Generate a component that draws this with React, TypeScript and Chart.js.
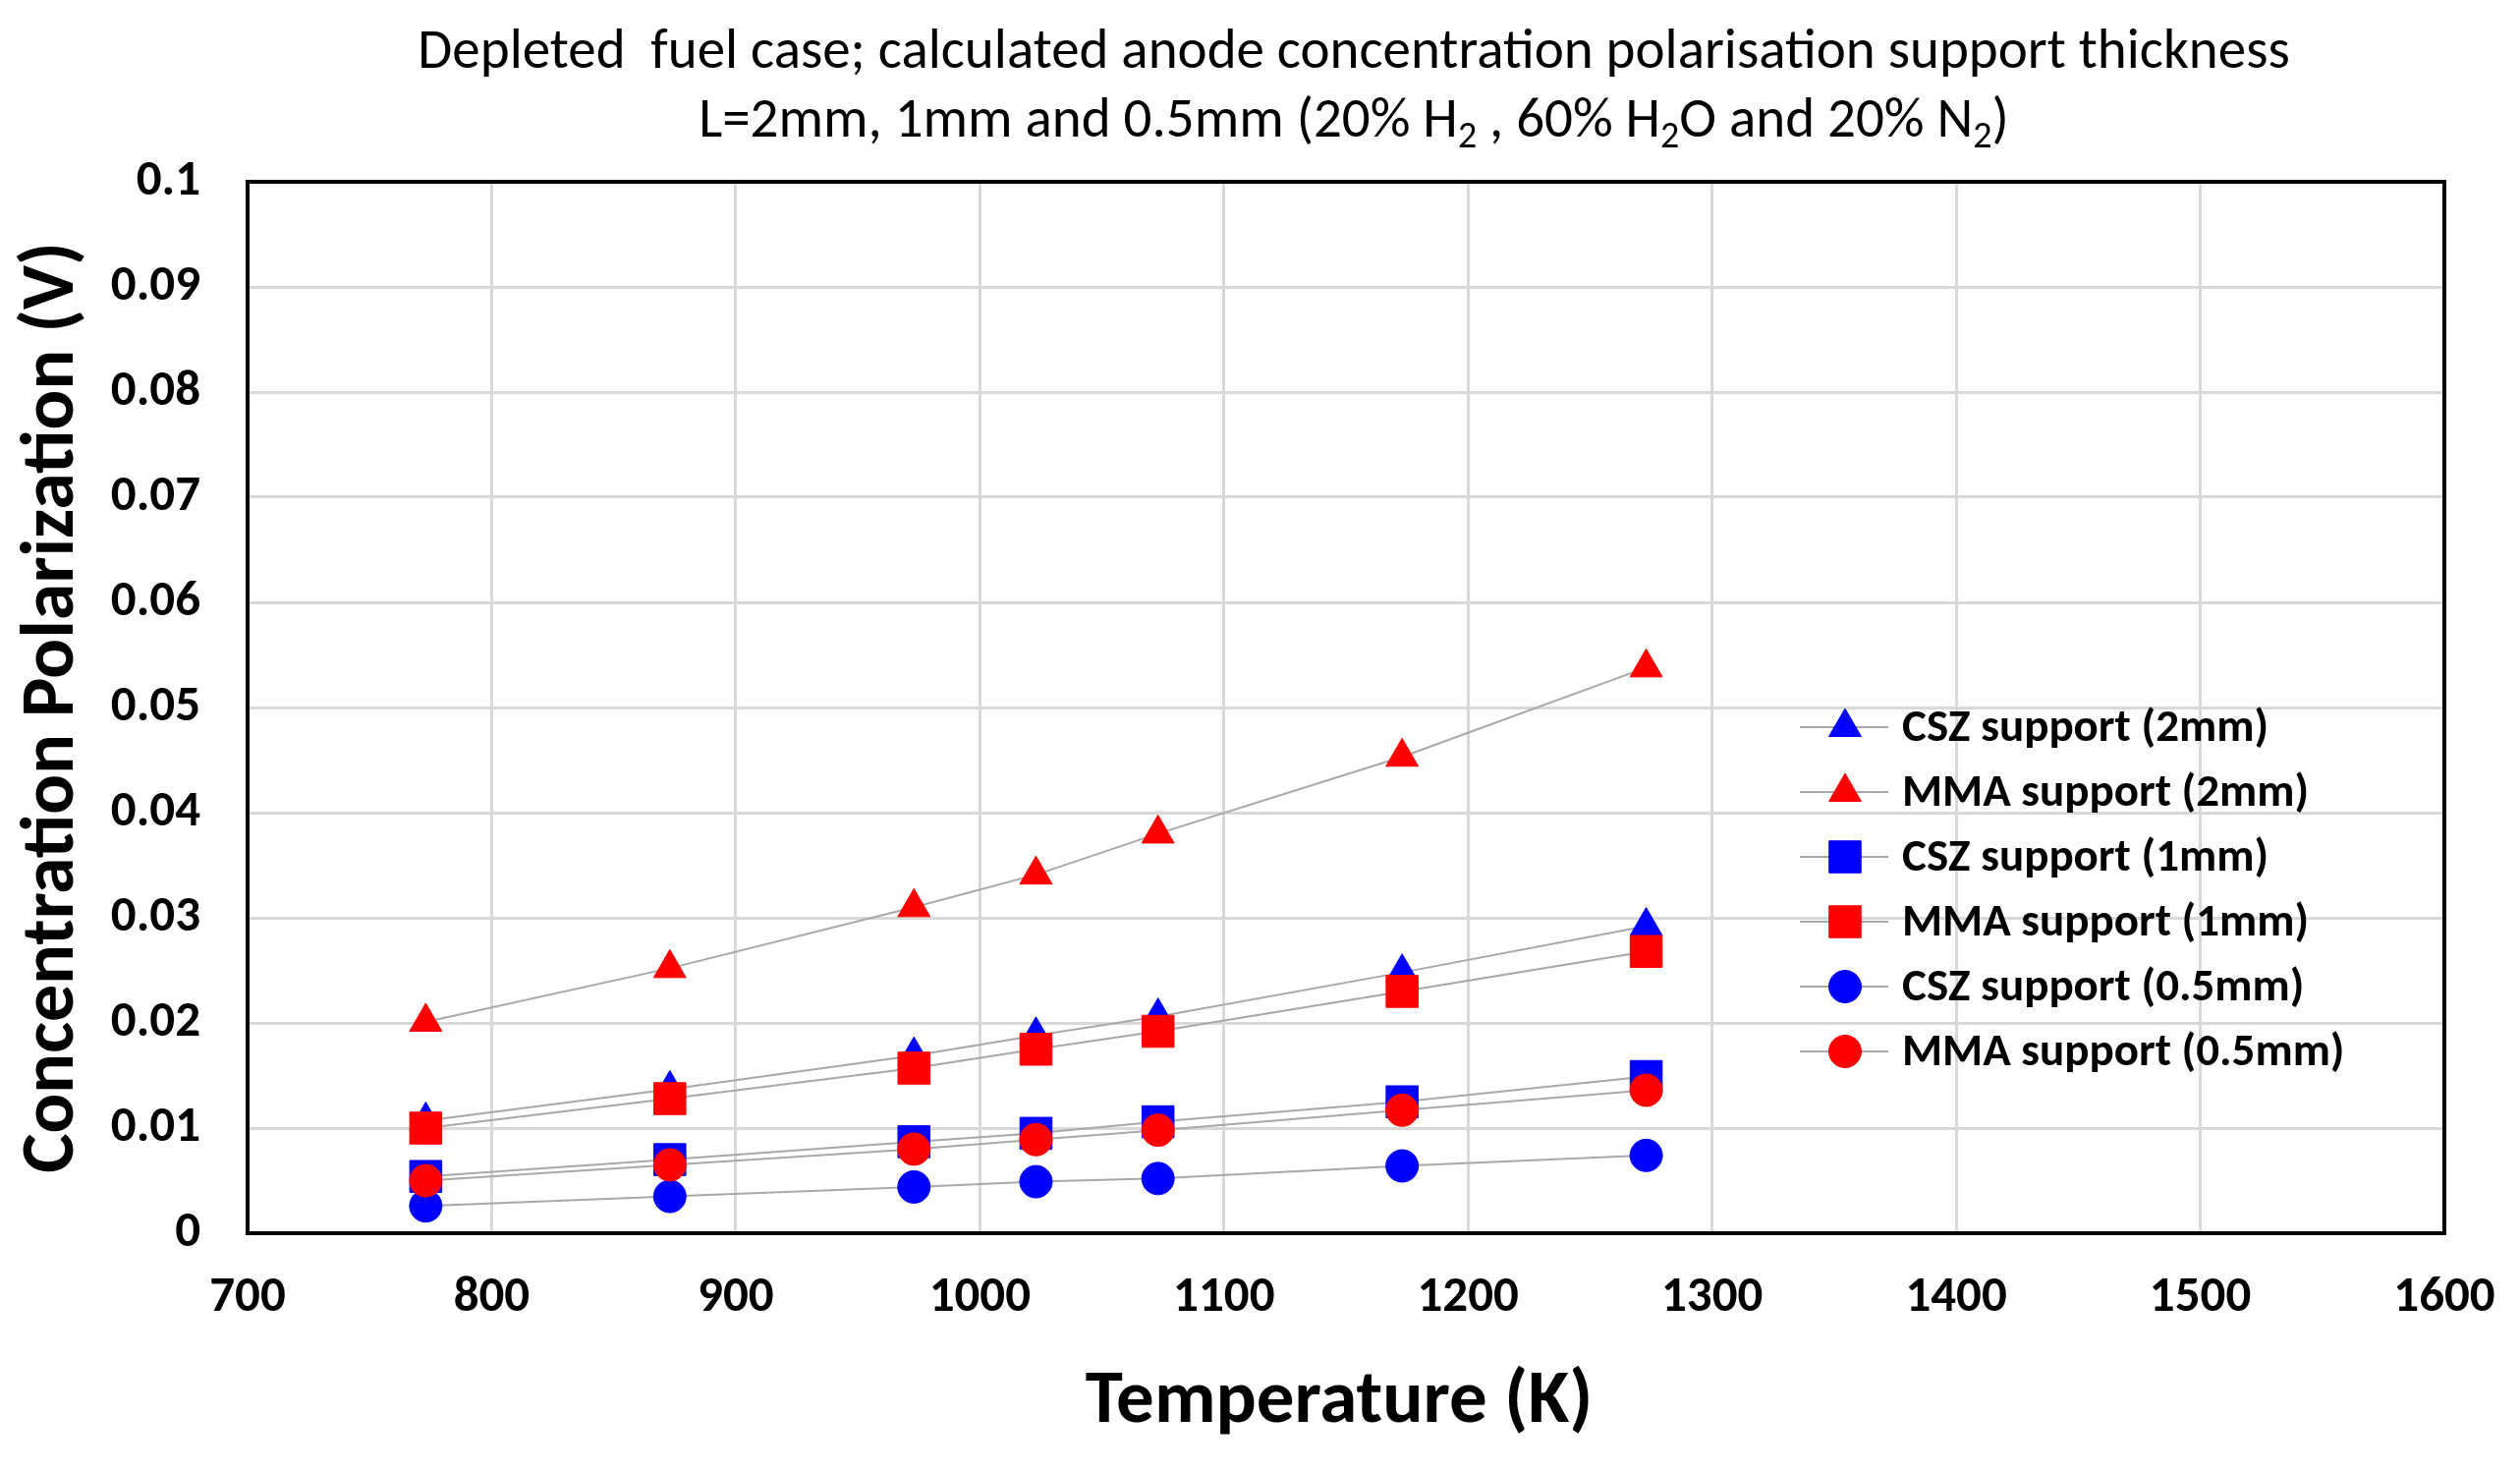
import { useEffect, useRef } from "react"
import { Chart, registerables } from "chart.js"
import { drawPoint } from "chart.js/helpers"

Chart.register(...registerables)

// Temperatura (K) e polarização de concentração (V)
const temperatures = [773, 873, 973, 1023, 1073, 1173, 1273]
const cszSupport2mm = [0.0107, 0.0137, 0.0169, 0.0188, 0.0206, 0.0248, 0.0292]
const mmaSupport2mm = [0.0201, 0.0252, 0.031, 0.0341, 0.038, 0.0453, 0.0538]
const cszSupport1mm = [0.0054, 0.007, 0.0087, 0.0095, 0.0106, 0.0125, 0.0149]
const mmaSupport1mm = [0.01, 0.0128, 0.0157, 0.0175, 0.0192, 0.023, 0.0268]
const cszSupport05mm = [0.0026, 0.0035, 0.0044, 0.0049, 0.0052, 0.0064, 0.0074]
const mmaSupport05mm = [0.005, 0.0065, 0.008, 0.0089, 0.0098, 0.0117, 0.0136]

const seriesLabels = [
  "CSZ support (2mm)",
  "MMA support (2mm)",
  "CSZ support (1mm)",
  "MMA support (1mm)",
  "CSZ support (0.5mm)",
  "MMA support (0.5mm)",
]
const seriesValues = [cszSupport2mm, mmaSupport2mm, cszSupport1mm, mmaSupport1mm, cszSupport05mm, mmaSupport05mm]

const xMin = 700
const xMax = 1600
const xStep = 100
const yMin = 0
const yMax = 0.1
const yStep = 0.01

const titleLine1 = "Depleted  fuel case; calculated anode concentration polarisation support thickness"
// [texto, subscrito?]
const titleLine2: [string, boolean][] = [
  ["L=2mm, 1mm and 0.5mm (20% H", false],
  ["2", true],
  [" , 60% H", false],
  ["2", true],
  ["O and 20% N", false],
  ["2", true],
  [")", false],
]
const xTitle = "Temperature (K)"
const yTitle = "Concentration Polarization (V)"

const FONT = "Carlito, Lato, sans-serif"
const BLUE = "#0000ff"
const RED = "#ff0000"
const LINE_GRAY = "#a8a8a8"

const styles = [
  { color: BLUE, pointStyle: "triangle", radius: 19 },
  { color: RED, pointStyle: "triangle", radius: 19 },
  { color: BLUE, pointStyle: "rect", radius: 23 },
  { color: RED, pointStyle: "rect", radius: 23 },
  { color: BLUE, pointStyle: "circle", radius: 16.5 },
  { color: RED, pointStyle: "circle", radius: 16.5 },
]

const decorations = {
  id: "decorations",
  afterDraw(chart: any) {
    const { ctx, chartArea } = chart
    ctx.save()

    // moldura da área do gráfico
    ctx.strokeStyle = "#000"
    ctx.lineWidth = 4
    ctx.strokeRect(chartArea.left, chartArea.top, chartArea.right - chartArea.left, chartArea.bottom - chartArea.top)

    ctx.fillStyle = "#000"
    ctx.textBaseline = "middle"

    // título, linha 1
    ctx.font = `400 57px ${FONT}`
    ctx.textAlign = "center"
    ctx.fillText(titleLine1, 1378, 55)

    // título, linha 2 com subscritos
    ctx.textAlign = "left"
    const mainFont = `400 57px ${FONT}`
    const subFont = `400 38px ${FONT}`
    let total = 0
    for (const [txt, sub] of titleLine2) {
      ctx.font = sub ? subFont : mainFont
      total += ctx.measureText(txt).width
    }
    let x = 1378 - total / 2
    for (const [txt, sub] of titleLine2) {
      ctx.font = sub ? subFont : mainFont
      ctx.fillText(txt, x, sub ? 140 : 125)
      x += ctx.measureText(txt).width
    }

    // título do eixo x
    ctx.font = `700 77px ${FONT}`
    ctx.textAlign = "center"
    ctx.fillText(xTitle, 1363, 1428)

    // título do eixo y
    ctx.save()
    ctx.translate(55, 720)
    ctx.rotate(-Math.PI / 2)
    ctx.font = `700 76px ${FONT}`
    ctx.fillText(yTitle, 0, 0)
    ctx.restore()

    // legenda
    ctx.font = `700 47px ${FONT}`
    ctx.textAlign = "left"
    seriesLabels.forEach((label, i) => {
      const y = 740 + i * 66
      ctx.strokeStyle = LINE_GRAY
      ctx.lineWidth = 2
      ctx.beginPath()
      ctx.moveTo(1832, y)
      ctx.lineTo(1922, y)
      ctx.stroke()
      ctx.fillStyle = styles[i].color
      ctx.strokeStyle = styles[i].color
      ctx.lineWidth = 1
      drawPoint(ctx, { pointStyle: styles[i].pointStyle as any, radius: styles[i].radius, rotation: 0, borderWidth: 1 }, 1878, y)
      ctx.fillStyle = "#000"
      ctx.fillText(label, 1936, y + 2)
    })

    ctx.restore()
  },
}

export default function App() {
  const chartRef = useRef<HTMLCanvasElement>(null)
  const chartInstance = useRef<Chart | null>(null)

  useEffect(() => {
    if (!chartRef.current) return
    if (chartInstance.current) chartInstance.current.destroy()

    const ctx = chartRef.current.getContext("2d")
    if (!ctx) return

    chartInstance.current = new Chart(ctx, {
      type: "line",
      data: {
        datasets: seriesLabels.map((label, i) => ({
          label,
          data: temperatures.map((t, j) => ({ x: t, y: seriesValues[i][j] })),
          borderColor: LINE_GRAY,
          borderWidth: 2,
          tension: 0,
          pointStyle: styles[i].pointStyle as any,
          pointRadius: styles[i].radius,
          pointHoverRadius: styles[i].radius,
          pointBackgroundColor: styles[i].color,
          pointBorderColor: styles[i].color,
          pointBorderWidth: 1,
          order: -i,
        })),
      },
      options: {
        responsive: true,
        maintainAspectRatio: false,
        animation: false,
        layout: { padding: { top: 185, right: 77, left: 0, bottom: 0 } },
        scales: {
          x: {
            type: "linear",
            min: xMin,
            max: xMax,
            afterFit: (scale: any) => {
              scale.height = 243
              scale.paddingLeft = 0
              scale.paddingRight = 0
            },
            ticks: {
              stepSize: xStep,
              padding: 36,
              color: "#000",
              font: { family: FONT, size: 51, weight: "bold" },
              callback: (v: any) => String(v),
              maxRotation: 0,
            },
            grid: { color: "#d9d9d9", lineWidth: 3, drawTicks: false },
            border: { display: false },
          },
          y: {
            type: "linear",
            min: yMin,
            max: yMax,
            afterFit: (scale: any) => {
              scale.width = 252
              scale.paddingTop = 0
              scale.paddingBottom = 0
            },
            ticks: {
              stepSize: yStep,
              padding: 48,
              color: "#000",
              font: { family: FONT, size: 51, weight: "bold" },
              callback: (v: any) => String(+Number(v).toFixed(2)),
            },
            grid: { color: "#d9d9d9", lineWidth: 3, drawTicks: false },
            border: { display: false },
          },
        },
        plugins: {
          legend: { display: false },
          title: { display: false },
          tooltip: { enabled: false },
        },
      },
      plugins: [decorations],
    })

    return () => {
      if (chartInstance.current) {
        chartInstance.current.destroy()
        chartInstance.current = null
      }
    }
  }, [])

  return (
    <div style={{ position: "fixed", left: 0, top: 0, width: "100vw", height: "100vh", background: "#fff" }}>
      <canvas ref={chartRef} />
    </div>
  )
}
